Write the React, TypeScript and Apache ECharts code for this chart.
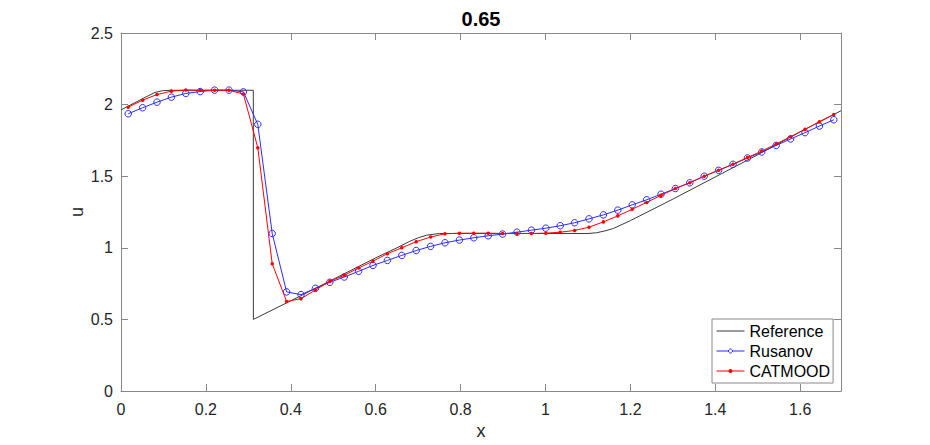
import { useEffect, useRef } from "react";
import * as echarts from "echarts";

// cell centres (50 cells on [0, 1.696])
const xCenters = [
  0.017, 0.0509, 0.0848, 0.1187, 0.1526, 0.1866, 0.2205, 0.2544, 0.2883, 0.3222,
  0.3562, 0.3901, 0.424, 0.4579, 0.4918, 0.5258, 0.5597, 0.5936, 0.6275, 0.6614,
  0.6954, 0.7293, 0.7632, 0.7971, 0.831, 0.865, 0.8989, 0.9328, 0.9667, 1.0006,
  1.0346, 1.0685, 1.1024, 1.1363, 1.1702, 1.2042, 1.2381, 1.272, 1.3059, 1.3398,
  1.3738, 1.4077, 1.4416, 1.4755, 1.5094, 1.5434, 1.5773, 1.6112, 1.6451, 1.679,
];

const rusanovU = [
  1.936, 1.978, 2.017, 2.052, 2.078, 2.091, 2.101, 2.101, 2.089, 1.862,
  1.1, 0.692, 0.673, 0.717, 0.759, 0.796, 0.836, 0.877, 0.912, 0.947,
  0.981, 1.01, 1.035, 1.054, 1.07, 1.084, 1.096, 1.109, 1.123, 1.137,
  1.154, 1.175, 1.202, 1.23, 1.263, 1.3, 1.335, 1.374, 1.414, 1.454,
  1.5, 1.541, 1.583, 1.627, 1.669, 1.715, 1.76, 1.804, 1.85, 1.894,
];

const catmoodU = [
  1.982, 2.031, 2.07, 2.094, 2.102, 2.1, 2.1, 2.1, 2.074, 1.699,
  0.889, 0.625, 0.645, 0.705, 0.766, 0.808, 0.859, 0.907, 0.959, 1.0,
  1.043, 1.075, 1.098, 1.102, 1.102, 1.102, 1.1, 1.1, 1.1, 1.102,
  1.109, 1.121, 1.144, 1.181, 1.223, 1.269, 1.317, 1.366, 1.414, 1.455,
  1.5, 1.542, 1.584, 1.63, 1.676, 1.725, 1.776, 1.827, 1.88, 1.931,
];

const refX = [
  0, 0.05, 0.08, 0.1, 0.12, 0.3117, 0.3118, 0.4, 0.5, 0.6, 0.65, 0.68, 0.7,
  0.72, 0.75, 0.8, 1.1, 1.12, 1.14, 1.16, 1.2, 1.3, 1.4, 1.5, 1.6, 1.696,
];
const refU = [
  1.963, 2.04, 2.085, 2.098, 2.1, 2.1, 0.5, 0.63, 0.78, 0.93, 1.0, 1.045, 1.07,
  1.088, 1.1, 1.1, 1.1, 1.105, 1.118, 1.135, 1.19, 1.34, 1.495, 1.65, 1.81, 1.957,
];

const xTicks = [0, 0.2, 0.4, 0.6, 0.8, 1, 1.2, 1.4, 1.6];
const xMax = 1.696;
const seriesNames = ["Reference", "Rusanov", "CATMOOD"];

const FONT = '"Liberation Sans", Arial, Helvetica, sans-serif';
const AXIS_COLOR = "#888888";
const LABEL_COLOR = "#262626";
const BLUE = "#2a2aff";
const RED = "#ff0000";

export default function App() {
  const ref = useRef<HTMLDivElement>(null);
  useEffect(() => {
    const chart = echarts.init(ref.current!, null, { renderer: "svg" });
    const axisLine = { show: true, onZero: false, lineStyle: { color: AXIS_COLOR, width: 1 } };
    const tickStyle = { lineStyle: { color: AXIS_COLOR, width: 1 } };
    const option = {
      animation: false,
      backgroundColor: "#ffffff",
      textStyle: { fontFamily: FONT },
      grid: { left: 121, right: 89, top: 33, bottom: 53, containLabel: false },
      xAxis: [
        {
          type: "value",
          position: "bottom",
          min: 0,
          max: xMax,
          axisLine,
          axisTick: { show: true, inside: true, length: 7, customValues: xTicks, ...tickStyle },
          axisLabel: { customValues: xTicks, fontSize: 16, color: LABEL_COLOR, margin: 10, fontFamily: FONT },
          splitLine: { show: false },
          name: "x",
          nameLocation: "middle",
          nameGap: 31,
          nameMoveOverlap: false,
          nameTextStyle: { fontSize: 18, color: LABEL_COLOR, fontFamily: FONT },
        },
        {
          type: "value",
          position: "top",
          min: 0,
          max: xMax,
          axisLine,
          axisTick: { show: true, inside: true, length: 7, customValues: xTicks, ...tickStyle },
          axisLabel: { show: false },
          splitLine: { show: false },
        },
      ],
      yAxis: [
        {
          type: "value",
          position: "left",
          min: 0,
          max: 2.5,
          interval: 0.5,
          axisLine,
          axisTick: { show: true, inside: true, length: 7, ...tickStyle },
          axisLabel: { fontSize: 16, color: LABEL_COLOR, margin: 8, fontFamily: FONT },
          splitLine: { show: false },
          name: "u",
          nameLocation: "middle",
          nameGap: 35,
          nameMoveOverlap: false,
          nameRotate: 90,
          nameTextStyle: { fontSize: 18, color: LABEL_COLOR, fontFamily: FONT },
        },
        {
          type: "value",
          position: "right",
          min: 0,
          max: 2.5,
          interval: 0.5,
          axisLine,
          axisTick: { show: true, inside: true, length: 7, ...tickStyle },
          axisLabel: { show: false },
          splitLine: { show: false },
        },
      ],
      legend: {
        data: [
          { name: seriesNames[0], itemStyle: { opacity: 0 } },
          { name: seriesNames[1], itemStyle: { color: "#ffffff", borderColor: BLUE, borderWidth: 1 } },
          { name: seriesNames[2] },
        ],
        orient: "vertical",
        left: 712,
        top: 319,
        itemWidth: 28,
        itemHeight: 5,
        itemGap: 4,
        padding: [4, 3, 4, 4],
        borderColor: AXIS_COLOR,
        borderWidth: 1,
        borderRadius: 0,
        backgroundColor: "#ffffff",
        lineStyle: { width: 1 },
        textStyle: { fontSize: 16, color: "#000000", fontFamily: FONT, lineHeight: 16 },
      },
      graphic: [
        {
          type: "text",
          x: 481,
          y: 19,
          style: {
            text: "0.65",
            font: `bold 20px ${FONT}`,
            textAlign: "center",
            textVerticalAlign: "middle",
            fill: "#000000",
          },
        },
      ],
      series: [
        {
          name: seriesNames[0],
          type: "line",
          xAxisIndex: 0,
          yAxisIndex: 0,
          data: refX.map((x, i) => [x, refU[i]]),
          showSymbol: false,
          symbol: "none",
          lineStyle: { color: "#3a3a3a", width: 1 },
          itemStyle: { color: "#3a3a3a" },
          z: 2,
        },
        {
          name: seriesNames[1],
          type: "line",
          xAxisIndex: 0,
          yAxisIndex: 0,
          data: xCenters.map((x, i) => [x, rusanovU[i]]),
          symbol: "circle",
          symbolSize: 6.5,
          lineStyle: { color: BLUE, width: 1 },
          itemStyle: { color: "rgba(255,255,255,0)", borderColor: BLUE, borderWidth: 1 },
          z: 3,
        },
        {
          name: seriesNames[2],
          type: "line",
          xAxisIndex: 0,
          yAxisIndex: 0,
          data: xCenters.map((x, i) => [x, catmoodU[i]]),
          symbol: "circle",
          symbolSize: 3.5,
          lineStyle: { color: RED, width: 1 },
          itemStyle: { color: RED },
          z: 4,
        },
      ],
    };
    chart.setOption(option as any);
    return () => chart.dispose();
  }, []);
  return (
    <div
      ref={ref}
      style={{ position: "fixed", left: 0, top: 0, width: 930, height: 445, background: "#fff" }}
    />
  );
}
